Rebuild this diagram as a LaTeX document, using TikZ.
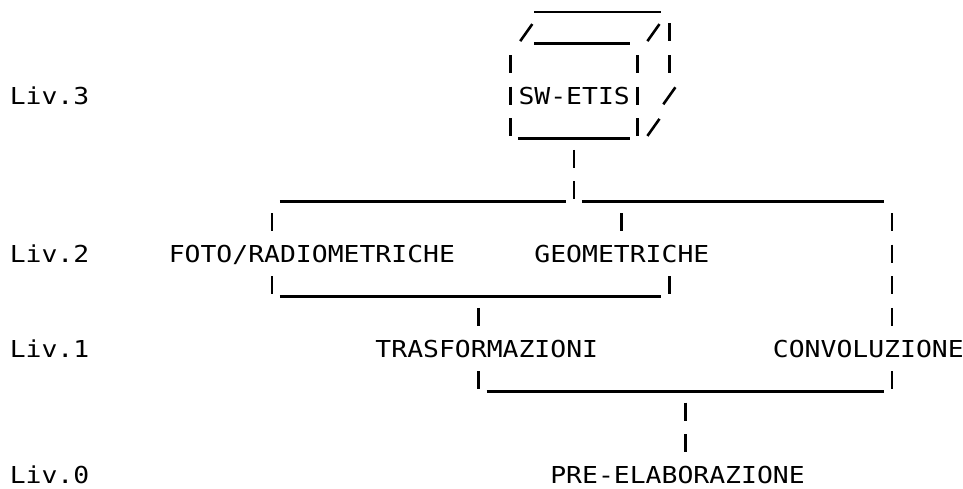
\documentclass[tikz,border=0pt]{standalone}
\usepackage{fontspec}
\newfontfamily\stampa[FakeStretch=1.133]{DejaVu Sans Mono}

\begin{document}
\begin{tikzpicture}[x=0.477cm,y=-0.948cm,line cap=butt,
  every node/.style={inner sep=0pt,anchor=west,text height=14.5pt,text depth=0pt,
    font=\stampa\fontsize{19.9pt}{20pt}\selectfont},
  linea/.style={line width=2.2pt},
  barra/.style={line width=2.2pt,dash pattern=on 0.54cm off 0.408cm}]
  \useasboundingbox (-1.10,-0.032) rectangle (59.47,15.44);
  % livelli
  \foreach \r/\n in {3/3,8/2,11/1,15/0}
    \node (liv\n) at (-0.5,\r) {Liv.\n};
  % voci
  \node (sw) at (31.5,3) {SW-ETIS};
  \node (foto) at (9.5,8) {FOTO/RADIOMETRICHE};
  \node (geo) at (32.5,8) {GEOMETRICHE};
  \node (trasf) at (22.5,11) {TRASFORMAZIONI};
  \node (conv) at (47.5,11) {CONVOLUZIONE};
  \node (pre) at (33.5,15) {PRE-ELABORAZIONE};
  % trattini verticali
  \foreach \c/\a/\b in {31/2/4, 39/2/4, 41/1/2, 35/5/6, 16/7/7, 38/7/7, 55/7/10,
      16/9/9, 41/9/9, 29/10/10, 29/12/12, 55/12/12, 42/13/14}
    \draw[barra] (\c,{\a-0.29}) -- (\c,{\b+0.29});
  % linee orizzontali
  \foreach \r/\a/\b in {0/33/40, 1/33/38, 4/32/38, 6/17/34, 6/36/54, 9/17/40, 12/30/54}
    \draw[linea] ({\a-0.5},{\r+0.35}) -- ({\b+0.5},{\r+0.35});
  % barre oblique della scatola
  \foreach \c/\r in {32/1, 40/1, 41/3, 40/4}
    \draw[linea] ({\c-0.38},{\r+0.27}) -- ({\c+0.38},{\r-0.27});
\end{tikzpicture}
\end{document}
